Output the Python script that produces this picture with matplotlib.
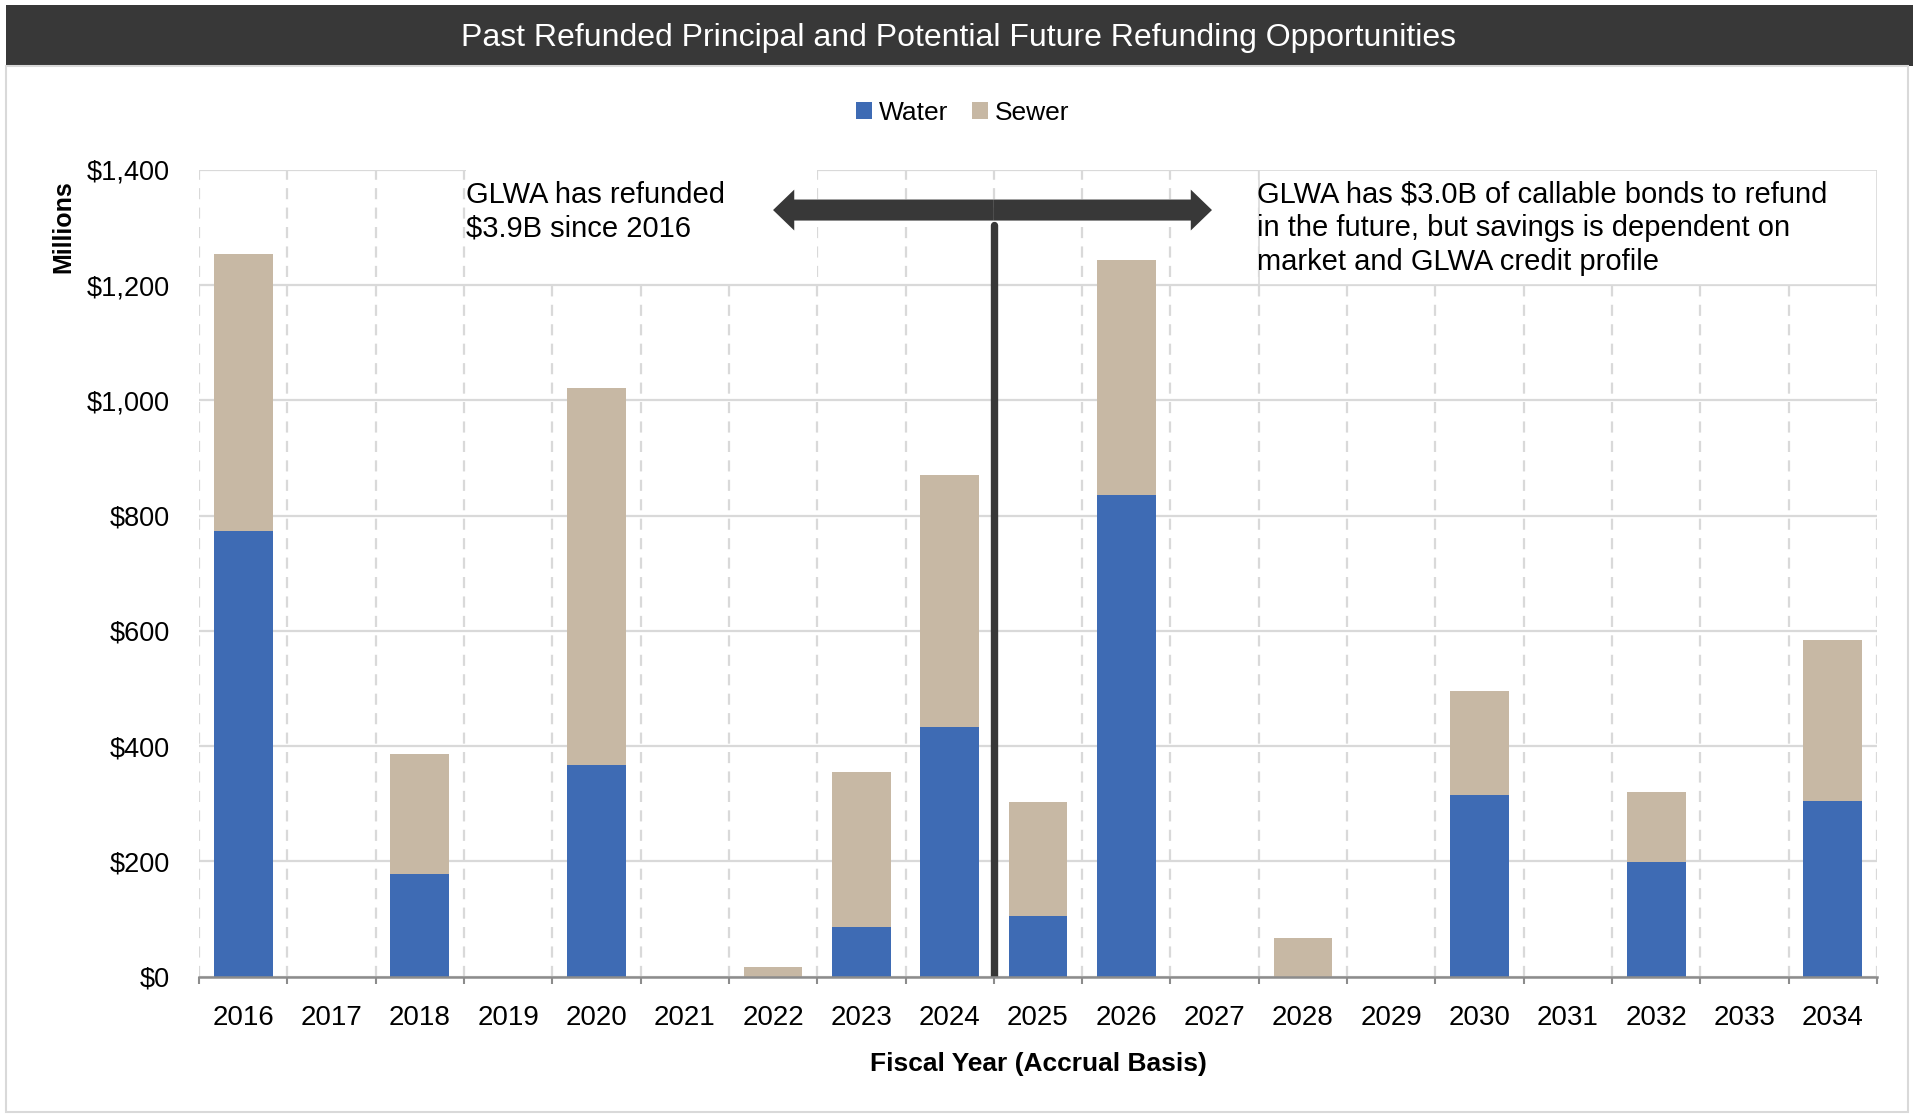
import matplotlib
matplotlib.use("Agg")
import matplotlib.pyplot as plt
import numpy as np
from matplotlib.patches import Rectangle, FancyArrow
from matplotlib.ticker import FuncFormatter

plt.rcParams['font.family'] = ['Liberation Sans', 'DejaVu Sans']
plt.rcParams['lines.scale_dashes'] = False

years = [str(y) for y in range(2016, 2035)]
water = [774, 0, 178, 0, 367, 0, 0, 87, 434, 106, 836, 0, 0, 0, 316, 0, 199, 0, 305]
total = [1254, 0, 386, 0, 1022, 0, 17, 356, 871, 303, 1243, 0, 67, 0, 496, 0, 321, 0, 585]
sewer = [t - w for t, w in zip(total, water)]

left_note = "GLWA has refunded\n$3.9B since 2016"
right_note = ("GLWA has $3.0B of callable bonds to refund\n"
              "in the future, but savings is dependent on\n"
              "market and GLWA credit profile")

blue = '#3e6bb4'
tan = '#c7b8a4'
dark = '#383838'
grid = '#d9d9d9'

W, H = 1917, 1114
fig = plt.figure(figsize=(W / 100, H / 100), dpi=100)

# title bar and panel frame
fig.patches.append(Rectangle((6 / W, 1 - 66 / H), 1907 / W, 61 / H,
                             transform=fig.transFigure, facecolor=dark,
                             edgecolor='none', zorder=0))
fig.patches.append(Rectangle((6 / W, 1 - 1112 / H), 1902 / W, 1046 / H,
                             transform=fig.transFigure, facecolor='none',
                             edgecolor=grid, lw=1.5, zorder=0))
fig.text(0.5, 1 - 38 / H, "Past Refunded Principal and Potential Future Refunding Opportunities",
         color='white', fontsize=23, ha='center', va='center')

ax = fig.add_axes([199 / W, 1 - 976.7 / H, (1877 - 199) / W, (976.7 - 170) / H])
x = np.arange(len(years))
ax.bar(x, water, width=0.665, color=blue, label='Water', zorder=2)
ax.bar(x, sewer, width=0.665, bottom=water, color=tan, label='Sewer', zorder=2)

ax.set_xlim(-0.5, len(years) - 0.5)
ax.set_ylim(0, 1400)
ax.set_yticks(np.arange(0, 1401, 200))
ax.yaxis.set_major_formatter(FuncFormatter(lambda v, p: f"${v:,.0f}"))
ax.set_xticks(x)
ax.set_xticklabels(years)
ax.set_xticks(np.arange(-0.5, len(years), 1), minor=True)
ax.tick_params(axis='x', which='major', length=0, labelsize=20, pad=20.5)
ax.tick_params(axis='x', which='minor', length=5, width=1.5, color='#8c8c8c')
ax.tick_params(axis='y', length=0, labelsize=19.5, pad=21)

ax.set_axisbelow(True)
ax.grid(axis='y', color=grid, lw=1.6)
ax.grid(axis='x', which='minor', color=grid, lw=1.6, linestyle=(0, (8, 6)))
for s in ['top', 'left', 'right']:
    ax.spines[s].set_visible(False)
ax.spines['bottom'].set_color('#8c8c8c')
ax.spines['bottom'].set_linewidth(1.8)
ax.spines['bottom'].set_zorder(3)

# white boxes behind the notes
ax.add_patch(Rectangle((2.52, 1212), 3.98, 188, facecolor='white', edgecolor='none', zorder=1.5))
ax.add_patch(Rectangle((11.5, 1200), 7.0, 200, facecolor='white', edgecolor=grid, lw=1.2, zorder=1.5))

# divider line and double arrow
ax.plot([8.5, 8.5], [0, 1304], color=dark, lw=5.3, solid_capstyle='round', zorder=3)
ax.add_patch(FancyArrow(8.5, 1330.5, -2.5, 0, width=36.5, head_width=71, head_length=0.24,
                        length_includes_head=True, color=dark, lw=0, zorder=3))
ax.add_patch(FancyArrow(8.5, 1330.5, 2.47, 0, width=36.5, head_width=71, head_length=0.24,
                        length_includes_head=True, color=dark, lw=0, zorder=3))

ax.text(2.52, 1381, left_note, fontsize=21, va='top', ha='left', linespacing=1.25, zorder=4)
ax.text(11.48, 1381, right_note, fontsize=21, va='top', ha='left', linespacing=1.25, zorder=4)

fig.text(63.6 / W, 1 - 227 / H, "Millions", rotation=90, fontsize=18, fontweight='bold',
         ha='center', va='center')
fig.text(1038 / W, 1 - 1063.5 / H, "Fiscal Year (Accrual Basis)", fontsize=19, fontweight='bold',
         ha='center', va='center')

fig.legend(loc='center', bbox_to_anchor=(963 / W, 1 - 112.5 / H), ncol=2, frameon=False,
           fontsize=19, handlelength=0.6, handleheight=0.6, handletextpad=0.27,
           columnspacing=0.9)

fig.savefig('out.png', dpi=100)
